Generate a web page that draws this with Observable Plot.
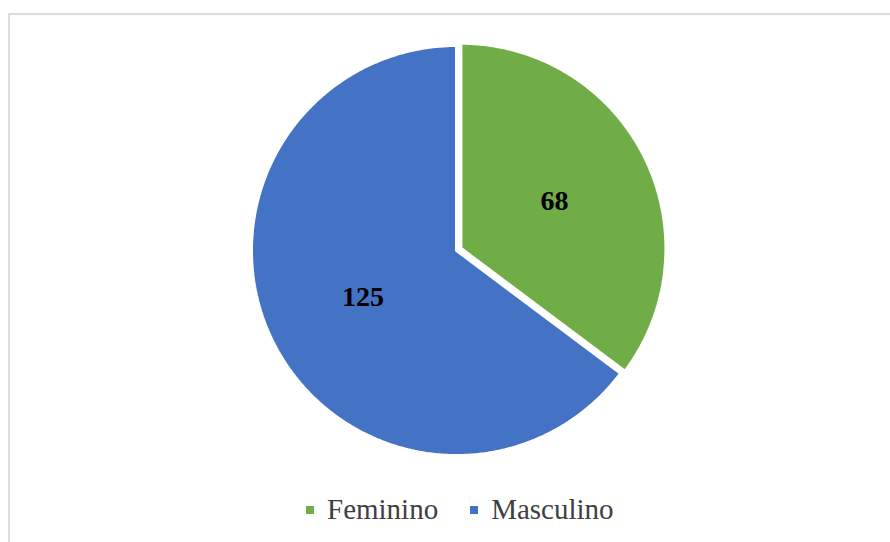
<!DOCTYPE html>
<html>
<head>
<meta charset="utf-8">
<script src="https://cdn.jsdelivr.net/npm/d3@7"></script>
<script src="https://cdn.jsdelivr.net/npm/@observablehq/plot@0.6"></script>
<style>
  html, body { margin: 0; padding: 0; background: #ffffff; }
  body { width: 890px; height: 542px; position: relative; overflow: hidden; }
  #frame { position: absolute; left: 8px; top: 13px; width: 900px; height: 560px; border-top: 2px solid #dcdcdc; border-left: 2px solid #dcdcdc; box-sizing: border-box; }
  #chart { position: absolute; left: 0; top: 0; }
  #legend { position: absolute; left: 306px; top: 495px; display: flex; align-items: center; font-family: 'Liberation Serif', 'Times New Roman', Times, serif; font-size: 29px; line-height: 28px; color: #404040; white-space: nowrap; }
  .item { display: flex; align-items: center; }
  .sw { width: 8px; height: 8px; margin-right: 13px; margin-top: 2px; }
  .gap { width: 32px; }
</style>
</head>
<body>
<div id="frame"></div>
<div id="chart"></div>
<div id="legend"></div>
<script>
// ---- data ----
const categories = ["Feminino", "Masculino"];
const values = [68, 125];
const colors = ["#70AD47", "#4472C4"];
const exploded = [0.024, 0]; // explode offset in radius units

// ---- geometry (from data via d3.pie) ----
const arcs = d3.pie().sort(null).value((d, i) => values[i])(categories);
const pts = [];
const labels = [];
arcs.forEach((a, i) => {
  const mid = (a.startAngle + a.endAngle) / 2;
  const ox = exploded[i] * Math.sin(mid);
  const oy = -exploded[i] * Math.cos(mid);
  pts.push({name: categories[i], x: ox, y: oy});
  const n = Math.max(2, Math.ceil((a.endAngle - a.startAngle) / (Math.PI / 360)));
  for (let k = 0; k <= n; k++) {
    const t = a.startAngle + (a.endAngle - a.startAngle) * k / n;
    pts.push({name: categories[i], x: ox + Math.sin(t), y: oy - Math.cos(t)});
  }
  const r = 0.51;
  labels.push({name: categories[i], value: values[i], x: ox + r * Math.sin(mid), y: oy - r * Math.cos(mid)});
});

const chart = Plot.plot({
  width: 890,
  height: 475,
  margin: 0,
  x: {domain: [-1, 1], range: [251, 661], axis: null},
  y: {domain: [-1, 1], range: [45, 455], axis: null},
  color: {domain: categories, range: colors},
  style: {background: "transparent", overflow: "visible"},
  marks: [
    Plot.line(pts, {x: "x", y: "y", z: "name", fill: "name", stroke: "#ffffff", strokeWidth: 3, curve: "linear-closed", strokeLinejoin: "miter"}),
    Plot.text(labels, {x: "x", y: "y", text: d => String(d.value), fill: "#000000", fontSize: 28, fontWeight: "bold", fontFamily: "'Liberation Serif', 'Times New Roman', Times, serif"})
  ]
});
document.getElementById("chart").appendChild(chart);

// ---- legend ----
const legend = document.getElementById("legend");
categories.forEach((c, i) => {
  if (i > 0) { const g = document.createElement("div"); g.className = "gap"; legend.appendChild(g); }
  const it = document.createElement("div"); it.className = "item";
  const sw = document.createElement("div"); sw.className = "sw"; sw.style.background = colors[i];
  const tx = document.createElement("span"); tx.textContent = c;
  it.appendChild(sw); it.appendChild(tx); legend.appendChild(it);
});
</script>
</body>
</html>
